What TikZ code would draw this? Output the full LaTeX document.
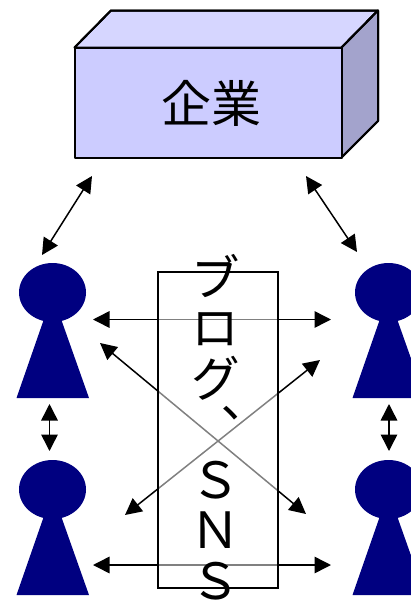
\documentclass[tikz,border=0pt]{standalone}
\usepackage{fontspec}
\usepackage{xcolor}
\newfontfamily\jpfont[RawFeature=+vert]{Noto Sans CJK JP}
\newfontfamily\jpfontflat{Noto Sans CJK JP}
\usetikzlibrary{arrows.meta,positioning,shapes.geometric}
\definecolor{boxfront}{HTML}{CCCCFF}
\definecolor{boxtop}{HTML}{D6D6FF}
\definecolor{boxside}{HTML}{A3A3CC}
\definecolor{personblue}{HTML}{000080}
\tikzset{
    link/.style={{Triangle[length=16.5pt,width=16.5pt]}-{Triangle[length=16.5pt,width=16.5pt]}, line width=1.5pt},
    boxface/.style={draw=black, line width=2pt, line join=round},
    head/.style={ellipse, fill=personblue, minimum width=67pt, minimum height=59pt, inner sep=0pt}
}
% one person: name, x of head, y of head
\newcommand{\person}[3]{
    \fill[personblue] (#2-36,#3+105.5) -- (#2-8,#3+25) -- (#2+8,#3+25) -- (#2+36.5,#3+105.5) -- cycle;
    \node[head] (#1) at (#2,#3) {};
}

\begin{document}
\begin{tikzpicture}[x=1pt,y=-1pt]
    \useasboundingbox (0,0) rectangle (411,603);

    % Company box
    \fill[boxface, fill=boxtop] (74.5,47.5) -- (111,10.5) -- (378,10.5) -- (341.5,47.5) -- cycle;
    \fill[boxface, fill=boxside] (341.5,47.5) -- (378,10.5) -- (378,121) -- (341.5,157.5) -- cycle;
    \draw[boxface] (74.5,47.5) -- (111,10.5) -- (378,10.5) -- (341.5,47.5);
    \draw[boxface] (378,10.5) -- (378,121) -- (341.5,157.5);
    \node[boxface, fill=boxfront, minimum width=267pt, minimum height=110pt, inner sep=0pt] (front) at (208,102.5) {};
    \node[inner sep=0pt, font=\jpfontflat\fontsize{50}{50}\selectfont] (company) at (211,103) {企業};

    % People
    \person{topleft}{52.5}{292.5}
    \person{topright}{388.5}{292.5}
    \person{botleft}{52.5}{489.5}
    \person{botright}{388.5}{489.5}

    % Free ends of the arrows
    \coordinate (a1) at (92,176);
    \coordinate (a2) at (42,255);
    \coordinate (b1) at (306,176);
    \coordinate (b2) at (357,252);
    \coordinate (c1) at (93,319.5);
    \coordinate (c2) at (331,319.5);
    \coordinate (d1) at (93,565);
    \coordinate (d2) at (331,565);
    \coordinate (e1) at (100,343);
    \coordinate (e2) at (306,514);
    \coordinate (f1) at (320,360);
    \coordinate (f2) at (125,515);
    \coordinate (g1) at (49.5,404);
    \coordinate (g2) at (49.5,451);
    \coordinate (h1) at (389,404);
    \coordinate (h2) at (389,451);

    % Arrows
    \foreach \from/\to in {a1/a2, b1/b2, c1/c2, d1/d2, e1/e2, f1/f2, g1/g2, h1/h2}
        \draw[link] (\from) -- (\to);

    % Blog panel
    \node[fill=white, fill opacity=0.5, minimum width=119.5pt, minimum height=316pt, inner sep=0pt] (panel) at (218,430) {};
    \draw[line width=1.5pt] (panel.north west) rectangle (panel.south east);
    \node[align=center, inner sep=0pt, font=\jpfont\fontsize{50}{50.5}\selectfont] (blog) at (215.5,427) {ブ\\ロ\\グ\\、\\Ｓ\\Ｎ\\Ｓ};
\end{tikzpicture}
\end{document}
